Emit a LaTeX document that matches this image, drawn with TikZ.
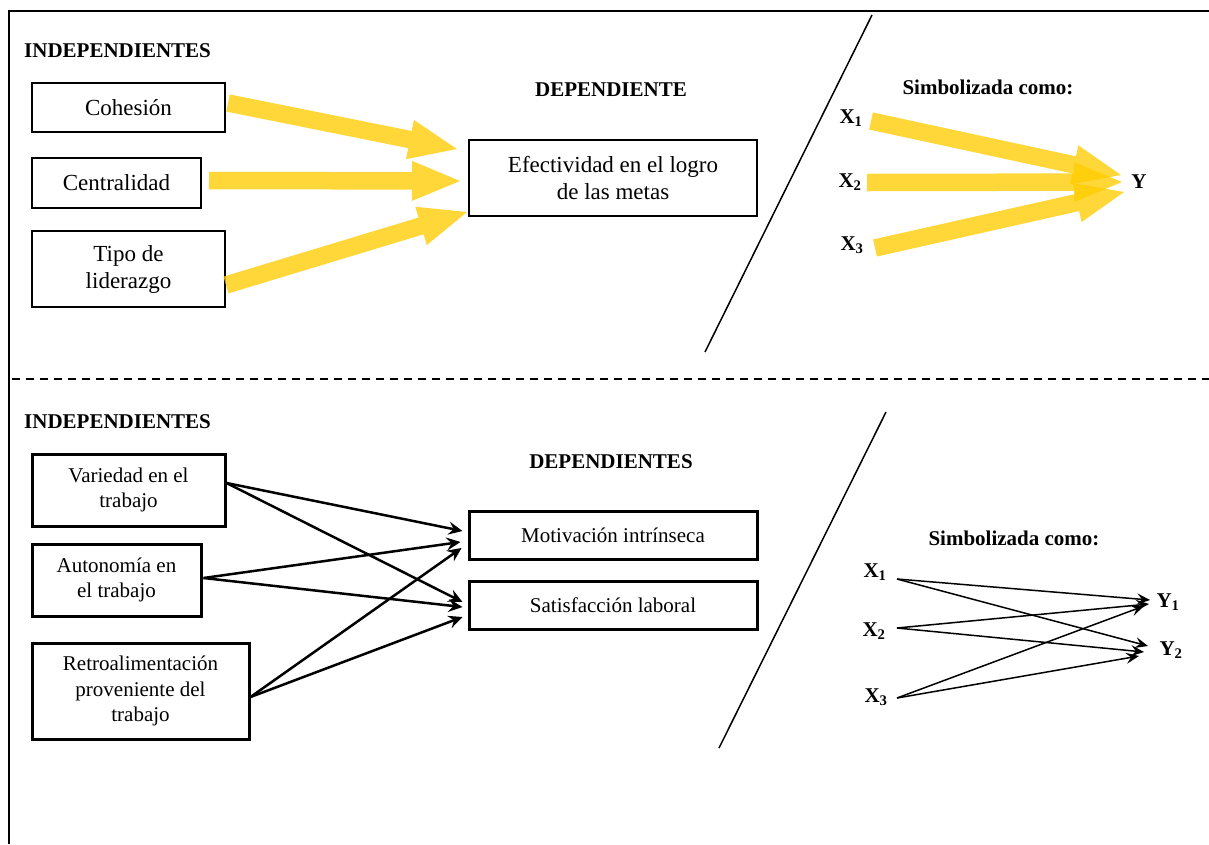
\documentclass[tikz,border=0pt]{standalone}
\usepackage{fontspec}
\setmainfont{Liberation Serif}
\usetikzlibrary{calc,arrows.meta}
\definecolor{yarrow}{RGB}{255,204,0}
\newcommand\yarr[2]{%
  \path (#2) coordinate (yE) ($(#2)!48pt!(#1)$) coordinate (yH) (#1) coordinate (yS);
  \fill[yellowfill] ($(yS)!8.75pt!90:(yE)$) -- ($(yH)!8.75pt!90:(yE)$) -- ($(yH)!20pt!90:(yE)$) -- (yE)
    -- ($(yH)!20pt!-90:(yE)$) -- ($(yH)!8.75pt!-90:(yE)$) -- ($(yS)!8.75pt!-90:(yE)$) -- cycle;}
\begin{document}
\begin{tikzpicture}[x=1pt,y=-1pt,
  topbox/.style={draw,line width=2pt,inner sep=0pt,align=center,font=\fontsize{23}{27}\selectfont},
  lowbox/.style={draw,line width=3pt,inner sep=0pt,align=center,font=\fontsize{21}{25.5}\selectfont},
  head/.style={font=\fontsize{21}{25}\selectfont\bfseries,inner sep=0pt},
  sym/.style={font=\fontsize{21}{25}\selectfont\bfseries,inner sep=0pt},
  yellowfill/.style={fill=yarrow,fill opacity=0.78},
  barrow/.style={line width=2.5pt,-{Stealth[length=14pt,width=13pt,inset=5pt]}},
  tarrow/.style={line width=1.5pt,-{Stealth[length=13pt,width=11pt,inset=5pt]}}]
\useasboundingbox (0,0) rectangle (1209,844);
% frame
\draw[line width=2pt] (9,844) -- (9,11) -- (1209,11);
\draw[line width=2pt,dash pattern=on 8pt off 6pt] (12,379) -- (1209,379);
\draw[line width=1.5pt] (872,15) -- (705,352);
\draw[line width=1.5pt] (886,412) -- (719,748);
% top section
\node[head,anchor=west] (ind1) at (24,51) {INDEPENDIENTES};
\node[head] (dep1) at (611,90) {DEPENDIENTE};
\node[head] (sim1) at (988,87) {Simbolizada como:};
\node[topbox,minimum width=193pt,minimum height=49pt] (coh) at (128.5,107.5) {Cohesión};
\node[topbox,minimum width=169pt,minimum height=50pt] (cen) at (116.5,183) {Centralidad};
\node[topbox,minimum width=193pt,minimum height=76pt] (tipo) at (128.5,269) {Tipo de\\liderazgo};
\node[topbox,minimum width=288pt,minimum height=76pt] (efe) at (613,178) {Efectividad en el logro\\de las metas};
\node[sym] (tx1) at (851,118) {X\textsubscript{1}};
\node[sym] (tx2) at (850,182) {X\textsubscript{2}};
\node[sym] (tx3) at (852,245) {X\textsubscript{3}};
\node[sym] (ty) at (1139,182) {Y};
\yarr{$(coh.east)+(2,-4.5)$}{$(efe.west)+(-11,-29)$}
\yarr{$(cen.east)+(7,-2.5)$}{$(efe.west)+(-8,3)$}
\yarr{$(tipo.east)+(0,16)$}{$(efe.west)+(-1,34)$}
\yarr{$(tx1)+(20,3)$}{$(ty)+(-18,-7)$}
\yarr{$(tx2)+(17,0.5)$}{$(ty)+(-17,0)$}
\yarr{$(tx3)+(23,3)$}{$(ty)+(-15,10)$}
% lower section
\node[head,anchor=west] (ind2) at (24,422) {INDEPENDIENTES};
\node[head] (dep2) at (611,462) {DEPENDIENTES};
\node[head] (sim2) at (1014,538) {Simbolizada como:};
\node[lowbox,minimum width=193pt,minimum height=72pt] (var) at (128.5,490) {Variedad en el\\trabajo};
\node[lowbox,minimum width=169pt,minimum height=72pt] (aut) at (116.5,580) {Autonomía en\\el trabajo};
\node[lowbox,minimum width=217pt,minimum height=96pt] (ret) at (140.5,691) {Retroalimentación\\proveniente del\\trabajo};
\node[lowbox,minimum width=288pt,minimum height=48pt] (mot) at (613,535) {Motivación intrínseca};
\node[lowbox,minimum width=288pt,minimum height=48pt] (sat) at (613,605) {Satisfacción laboral};
\draw[barrow] ($(var.east)+(0,-7)$) -- ($(mot.west)+(-5,-4)$);
\draw[barrow] ($(var.east)+(0,-7)$) -- ($(sat.west)+(-5,-3)$);
\draw[barrow] ($(aut.east)+(1,-2)$) -- ($(mot.west)+(-7,7)$);
\draw[barrow] ($(aut.east)+(1,-2)$) -- ($(sat.west)+(-5,2)$);
\draw[barrow] ($(ret.east)+(0,6)$) -- ($(mot.west)+(-6,13)$);
\draw[barrow] ($(ret.east)+(0,6)$) -- ($(sat.west)+(-5,12)$);
\node[sym] (bx1) at (875,572) {X\textsubscript{1}};
\node[sym] (bx2) at (874,631) {X\textsubscript{2}};
\node[sym] (bx3) at (876,697) {X\textsubscript{3}};
\node[sym] (by1) at (1168,602) {Y\textsubscript{1}};
\node[sym] (by2) at (1171,650) {Y\textsubscript{2}};
\draw[tarrow] ($(bx1)+(22,7)$) -- ($(by1)+(-18,-2)$);
\draw[tarrow] ($(bx1)+(22,7)$) -- ($(by2)+(-23,-4)$);
\draw[tarrow] ($(bx2)+(23,-3)$) -- ($(by1)+(-19,2)$);
\draw[tarrow] ($(bx2)+(23,-3)$) -- ($(by2)+(-27,2)$);
\draw[tarrow] ($(bx3)+(21,1)$) -- ($(by1)+(-24,4)$);
\draw[tarrow] ($(bx3)+(21,1)$) -- ($(by2)+(-32,6)$);
\end{tikzpicture}
\end{document}
